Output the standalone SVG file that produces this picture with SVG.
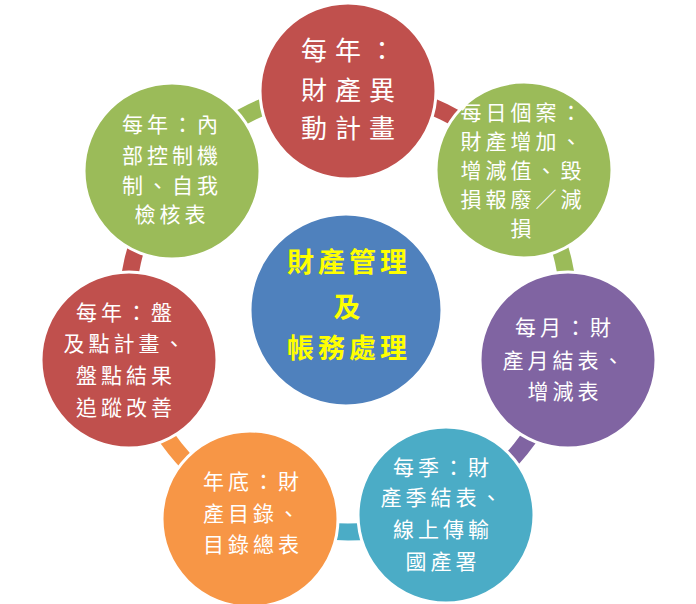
<svg xmlns="http://www.w3.org/2000/svg" width="696" height="604" viewBox="0 0 696 604">
<style>
.ring{fill:none;stroke-width:17}
.node{stroke:#FFFFFF;stroke-width:3}
.t{font-family:"Noto Sans CJK TC","Noto Sans CJK SC",sans-serif;fill:#FFFFFF;text-anchor:middle}
.t22{font-size:21px;letter-spacing:4px}
.t27{font-size:26px;letter-spacing:8px}
.tc{font-family:"Noto Sans CJK TC","Noto Sans CJK SC",sans-serif;fill:#FFFF00;text-anchor:middle;font-size:27px;letter-spacing:4px;font-weight:bold}
</style>
<rect width="696" height="604" fill="#FFFFFF"/>
<g id="connectors">
<path class="ring" stroke="#C0504D" d="M348 90 A221 221 0 0 1 520.8 173.2"/>
<path class="ring" stroke="#9BBB59" d="M520.8 173.2 A221 221 0 0 1 563.5 360.2"/>
<path class="ring" stroke="#8064A2" d="M563.5 360.2 A221 221 0 0 1 443.9 510.1"/>
<path class="ring" stroke="#4BACC6" d="M443.9 510.1 A221 221 0 0 1 252.1 510.1"/>
<path class="ring" stroke="#F79646" d="M252.1 510.1 A221 221 0 0 1 132.5 360.2"/>
<path class="ring" stroke="#C0504D" d="M132.5 360.2 A221 221 0 0 1 175.2 173.2"/>
<path class="ring" stroke="#9BBB59" d="M175.2 173.2 A221 221 0 0 1 348 90"/>
</g>
<g id="center">
<circle class="node" cx="346" cy="310" r="96" fill="#4F81BD"/>
<text class="tc" x="349" y="272">財產管理</text>
<text class="tc" x="349" y="317">及</text>
<text class="tc" x="349" y="358">帳務處理</text>
</g>
<g id="n1">
<circle class="node" cx="348" cy="91" r="88" fill="#C0504D"/>
<text class="t t27" x="352" y="60">每年：</text>
<text class="t t27" x="352" y="100">財產異</text>
<text class="t t27" x="352" y="138">動計畫</text>
</g>
<g id="n2">
<circle class="node" cx="524" cy="170" r="88" fill="#9BBB59"/>
<text class="t t22" x="523" y="120">每日個案：</text>
<text class="t t22" x="523" y="149">財產增加、</text>
<text class="t t22" x="523" y="178">增減值、毀</text>
<text class="t t22" x="523" y="207">損報廢／減</text>
<text class="t t22" x="523" y="236">損</text>
</g>
<g id="n3">
<circle class="node" cx="568" cy="360" r="88" fill="#8064A2"/>
<text class="t t22" x="565" y="335">每月：財</text>
<text class="t t22" x="565" y="368">產月結表、</text>
<text class="t t22" x="565" y="399">增減表</text>
</g>
<g id="n4">
<circle class="node" cx="446" cy="515" r="88" fill="#4BACC6"/>
<text class="t t22" x="443" y="475">每季：財</text>
<text class="t t22" x="443" y="505">產季結表、</text>
<text class="t t22" x="443" y="537">線上傳輸</text>
<text class="t t22" x="443" y="569">國產署</text>
</g>
<g id="n5">
<circle class="node" cx="250" cy="519" r="88" fill="#F79646"/>
<text class="t t22" x="253" y="489">年底：財</text>
<text class="t t22" x="253" y="521">產目錄、</text>
<text class="t t22" x="253" y="552">目錄總表</text>
</g>
<g id="n6">
<circle class="node" cx="129" cy="360" r="88" fill="#C0504D"/>
<text class="t t22" x="126" y="320">每年：盤</text>
<text class="t t22" x="126" y="351">及點計畫、</text>
<text class="t t22" x="126" y="383">盤點結果</text>
<text class="t t22" x="126" y="415">追蹤改善</text>
</g>
<g id="n7">
<circle class="node" cx="172" cy="171" r="88" fill="#9BBB59"/>
<text class="t t22" x="172" y="132">每年：內</text>
<text class="t t22" x="172" y="163">部控制機</text>
<text class="t t22" x="172" y="193">制、自我</text>
<text class="t t22" x="172" y="222">檢核表</text>
</g>
</svg>
